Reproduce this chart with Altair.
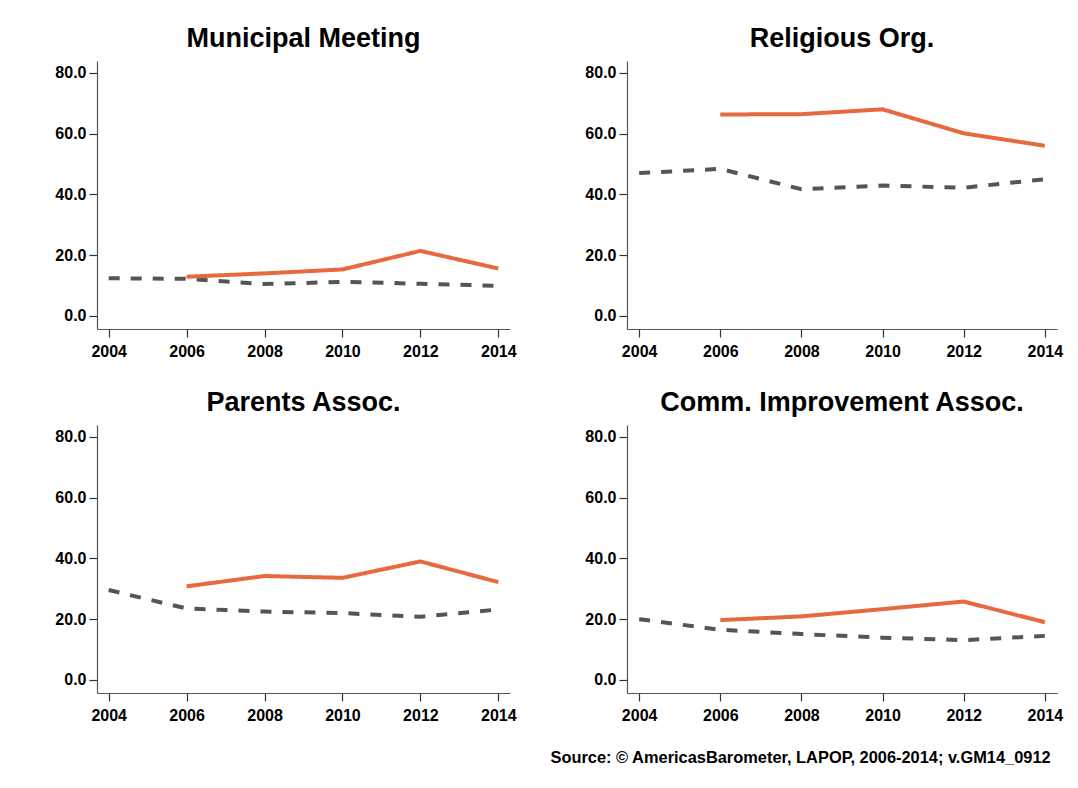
import altair as alt
import pandas as pd

years = [2004, 2006, 2008, 2010, 2012, 2014]
titles = ["Municipal Meeting", "Religious Org.", "Parents Assoc.", "Comm. Improvement Assoc."]

# solid orange series (no 2004 value)
muni_country = [None, 12.9, 14.0, 15.3, 21.4, 15.6]
relig_country = [None, 66.3, 66.4, 68.0, 60.1, 56.0]
parents_country = [None, 30.8, 34.2, 33.6, 39.0, 32.2]
comm_country = [None, 19.7, 20.9, 23.3, 25.8, 19.0]

# dashed gray series
muni_region = [12.4, 12.2, 10.5, 11.2, 10.6, 9.9]
relig_region = [47.0, 48.4, 41.7, 42.9, 42.2, 45.0]
parents_region = [29.6, 23.5, 22.5, 22.0, 20.8, 23.2]
comm_region = [20.0, 16.5, 15.1, 13.9, 13.1, 14.5]

series_names = ["Country", "Region"]
source_text = "Source: \u00a9 AmericasBarometer, LAPOP, 2006-2014; v.GM14_0912"

panel_data = [
    (titles[0], muni_country, muni_region),
    (titles[1], relig_country, relig_region),
    (titles[2], parents_country, parents_region),
    (titles[3], comm_country, comm_region),
]

FONT = "Liberation Sans"


def make_df(country, region):
    rows = []
    for y, c, r in zip(years, country, region):
        if c is not None:
            rows.append({"year": y, "value": c, "series": series_names[0]})
        if r is not None:
            rows.append({"year": y, "value": r, "series": series_names[1]})
    return pd.DataFrame(rows)


def panel(title, country, region, width):
    df = make_df(country, region)
    return alt.Chart(df).mark_line(strokeWidth=4, strokeCap="butt").encode(
        x=alt.X(
            "year:Q",
            scale=alt.Scale(domain=[2003.7, 2014.3], nice=False, zero=False),
            axis=alt.Axis(values=years, format="d", title=None, grid=False,
                          tickSize=8, labelPadding=6, minExtent=32, maxExtent=32),
        ),
        y=alt.Y(
            "value:Q",
            scale=alt.Scale(domain=[-4.3, 83.9], nice=False, zero=False),
            axis=alt.Axis(values=[0, 20, 40, 60, 80], format=".1f", title=None, grid=False,
                          tickSize=8, labelPadding=3, minExtent=50, maxExtent=50),
        ),
        color=alt.Color("series:N", scale=alt.Scale(domain=series_names, range=["#E8683F", "#555555"]), legend=None),
        strokeDash=alt.StrokeDash("series:N", scale=alt.Scale(domain=series_names, range=[[1, 0], [11, 11]]), legend=None),
        detail="series:N",
    ).properties(
        width=width,
        height=268,
        title=alt.TitleParams(title, fontSize=27, font=FONT, fontWeight="bold", anchor="middle", offset=8, color="#000000"),
    )


top = alt.hconcat(panel(*panel_data[0], 413), panel(*panel_data[1], 430), spacing=60)
bottom = alt.hconcat(panel(*panel_data[2], 413), panel(*panel_data[3], 430), spacing=60)

chart = alt.vconcat(top, bottom, spacing=28).properties(
    title=alt.TitleParams(source_text, orient="bottom", anchor="end", fontSize=16.4, font=FONT,
                          fontWeight="bold", color="#000000", offset=25, dx=-12),
    padding={"left": 39, "top": 17, "right": 5, "bottom": 5},
).configure_view(stroke=None).configure_axis(
    labelFont=FONT, labelFontSize=16, labelFontWeight="bold", labelColor="#000000",
    domainColor="#555555", tickColor="#333333", domainWidth=1.2, tickWidth=1.2,
)

chart.save("out.html", embed_options={"renderer": "svg", "actions": False})
